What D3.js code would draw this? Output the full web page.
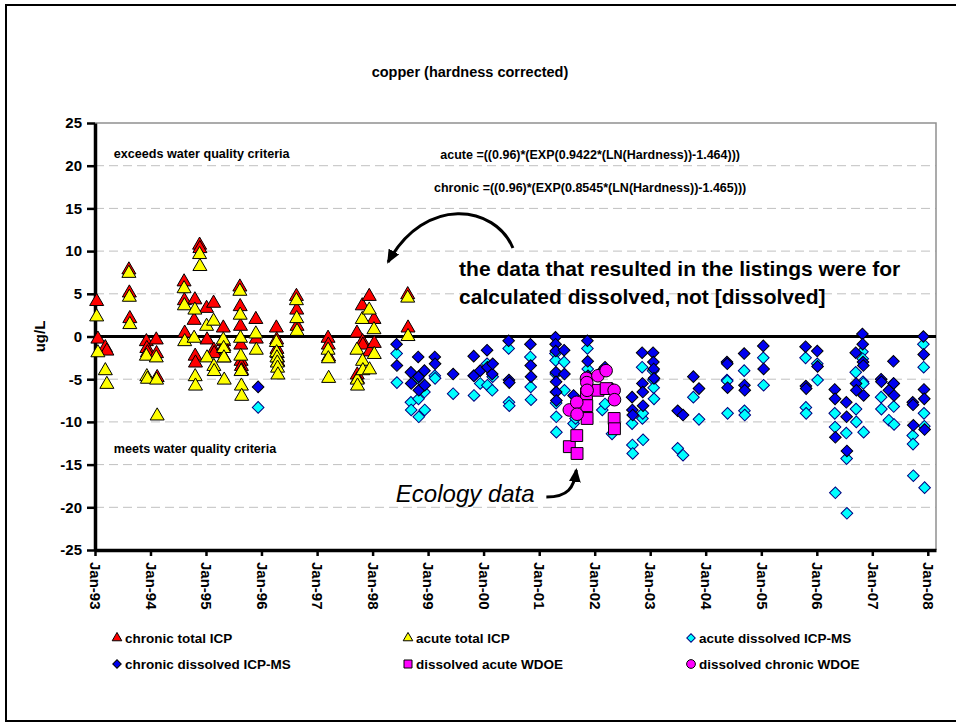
<!DOCTYPE html>
<html>
<head>
<meta charset="utf-8">
<script src="https://cdnjs.cloudflare.com/ajax/libs/d3/7.8.5/d3.min.js"></script>
<style>
  body { margin: 0; background: #fff; }
  svg { display: block; font-family: Arial, "Liberation Sans", sans-serif; }
  .grid line { stroke: #c0c0c0; stroke-dasharray: 9,5; }
</style>
</head>
<body>
<svg id="chart" width="956" height="723"></svg>
<script>
// ---------------- data ----------------
// total ICP : one date per sample, chronic + acute exceedance (ug/L)
const icpDates = [
  "1993-01-12","1993-01-20","1993-03-10","1993-03-20",
  "1993-08-12","1993-08-15","1993-08-18",
  "1993-12-05","1993-12-08","1993-12-12",
  "1994-02-08","1994-02-10","1994-02-14",
  "1994-08-10","1994-08-12","1994-08-14",
  "1994-10-20","1994-10-22","1994-10-24","1994-10-15",
  "1994-11-20","1994-11-22",
  "1995-01-05","1995-01-08","1995-02-20","1995-02-22","1995-02-24",
  "1995-04-25","1995-04-27","1995-04-29","1995-05-01",
  "1995-08-12","1995-08-14","1995-08-16","1995-08-18","1995-08-20","1995-08-22","1995-08-24",
  "1995-11-25","1995-11-28",
  "1996-04-08","1996-04-10","1996-04-12","1996-04-14","1996-04-16","1996-04-18",
  "1996-08-18","1996-08-20","1996-08-22",
  "1997-03-14","1997-03-16","1997-03-18",
  "1997-09-20","1997-09-22","1997-09-24",
  "1997-10-25","1997-10-27","1997-10-29",
  "1997-12-10","1997-12-12",
  "1998-01-10","1998-01-12",
  "1998-08-20","1998-08-22"
];
const chronicTotal = [
  4.1,-0.3,-1.3,-1.7,
  7.8,5.1,2.1,
  -0.6,-1.4,-1.9,
  -0.4,-2.0,-4.8,
  6.4,4.2,0.4,
  4.3,-2.3,-3.1,1.9,
  10.7,10.3,
  3.3,-0.4,3.9,-1.6,-2.0,
  1.0,-0.6,-1.2,-2.5,
  5.8,3.5,1.2,-1.0,-2.9,-3.5,-4.0,
  2.0,-0.3,
  1.0,-0.4,-1.5,-2.0,-2.5,-3.0,
  4.7,3.1,1.2,
  -0.2,-1.0,-2.4,
  0.4,-4.5,-5.0,
  3.6,-0.6,-1.0,
  4.7,-1.8,
  2.0,-0.8,
  4.9,1.0
];
const acuteTotal = [
  2.3,-1.9,-4.0,-5.6,
  7.4,4.6,1.4,
  -2.3,-4.7,-5.0,
  -2.5,-5.1,-9.3,
  5.6,3.6,-0.6,
  3.1,-4.7,-5.8,-0.2,
  9.6,8.2,
  1.2,-2.5,1.8,-3.5,-4.1,
  -0.4,-1.4,-2.5,-5.1,
  5.3,2.5,-0.2,-2.3,-4.1,-5.8,-7.0,
  0.3,-1.6,
  -0.7,-1.9,-2.5,-3.1,-3.7,-4.5,
  4.2,2.1,0.6,
  -1.6,-2.6,-4.9,
  -1.6,-5.1,-5.8,
  2.0,-2.9,-4.0,
  3.1,-3.9,
  0.8,-2.1,
  4.5,0.0
];

// dissolved ICP-MS
const msDates = [
  "1995-12-10",
  "1998-06-08","1998-06-10",
  "1998-09-10","1998-09-12",
  "1998-10-28","1998-10-30","1998-11-01",
  "1998-12-08","1998-12-10",
  "1999-02-14","1999-02-16",
  "1999-06-15",
  "1999-10-28","1999-10-30",
  "1999-12-10",
  "2000-01-24","2000-01-26",
  "2000-02-27","2000-03-01",
  "2000-06-14","2000-06-16","2000-06-18",
  "2000-11-04","2000-11-06","2000-11-08",
  "2001-04-18","2001-04-19","2001-04-20","2001-04-21","2001-04-22","2001-04-23","2001-04-24",
  "2001-06-14","2001-06-16",
  "2001-08-15","2001-08-28",
  "2001-11-14","2001-11-16","2001-11-18",
  "2002-02-20","2002-03-10","2002-04-25",
  "2002-09-04","2002-09-06","2002-09-08",
  "2002-11-09","2002-11-11","2002-11-13","2002-11-15",
  "2003-01-20","2003-01-22","2003-01-24","2003-01-26",
  "2003-07-01","2003-08-05",
  "2003-10-12","2003-11-18",
  "2004-05-20","2004-05-22","2004-05-24",
  "2004-09-10","2004-09-12","2004-09-14",
  "2005-01-14","2005-01-16",
  "2005-10-19","2005-10-21","2005-10-23",
  "2006-01-04","2006-01-06",
  "2006-04-29","2006-05-01","2006-05-03",
  "2006-07-14","2006-07-16","2006-07-18",
  "2006-09-14","2006-09-16","2006-09-18",
  "2006-10-28","2006-10-30","2006-11-01","2006-11-03","2006-11-05",
  "2007-02-28","2007-03-02",
  "2007-04-20",
  "2007-05-20","2007-05-22","2007-05-24",
  "2007-09-24","2007-09-26","2007-09-28",
  "2007-12-03","2007-12-05","2007-12-07","2007-12-09","2007-12-11"
];
const chronicDiss = [
  -5.9,
  -0.9,-3.4,
  -4.2,-5.5,
  -2.4,-4.7,-6.3,
  -4.0,-5.7,
  -2.4,-3.2,
  -4.4,
  -2.3,-4.6,
  -4.0,
  -1.6,-3.6,
  -4.4,-3.2,
  -0.5,-5.1,-5.4,
  -0.9,-3.4,-4.7,
  -0.1,-0.9,-1.7,-4.2,-5.3,-6.5,-7.5,
  -1.6,-4.4,
  -6.9,-8.0,
  -0.5,-2.9,-4.6,
  -4.0,-3.6,-6.1,
  -7.1,-8.6,-9.2,
  -1.9,-5.5,-6.5,-8.1,
  -1.9,-3.0,-3.8,-4.9,
  -8.7,-9.2,
  -4.7,-6.1,
  -3.0,-3.2,-6.0,
  -2.0,-5.7,-6.3,
  -1.1,-3.8,
  -1.2,-5.8,-6.1,
  -1.7,-3.5,
  -6.2,-7.3,-11.8,
  -7.7,-9.4,-13.4,
  -1.9,-5.5,-6.3,
  0.3,-0.9,-3.0,-3.4,-6.9,
  -5.0,-5.3,
  -6.3,
  -2.9,-5.5,-6.9,
  -7.7,-8.0,-10.4,
  0.0,-2.1,-6.2,-7.3,-10.9
];
const acuteDiss = [
  -8.3,
  -2.0,-5.4,
  -7.7,-8.6,
  -4.9,-7.3,-9.4,
  -6.5,-8.6,
  -4.6,-4.9,
  -6.7,
  -4.6,-6.9,
  -5.5,
  -3.2,-5.7,
  -6.3,-4.7,
  -1.4,-7.7,-8.1,
  -2.4,-5.9,-7.4,
  -2.0,-2.8,-4.4,-6.5,-7.8,-9.4,-11.2,
  -3.0,-6.3,
  -10.2,-9.6,
  -1.4,-3.8,-6.3,
  -8.6,-7.9,-11.4,
  -10.2,-12.7,-13.7,
  -3.6,-9.6,-9.0,-12.1,
  -4.0,-5.1,-6.0,-7.3,
  -13.1,-13.9,
  -7.1,-9.7,
  -5.1,-5.2,-9.0,
  -4.0,-8.7,-9.2,
  -2.5,-5.7,
  -2.5,-8.3,-9.0,
  -3.2,-5.1,
  -9.0,-10.6,-18.3,
  -11.3,-14.3,-20.7,
  -4.2,-8.5,-10.0,
  -1.8,-2.6,-5.3,-5.5,-11.2,
  -7.1,-8.5,
  -9.8,
  -5.5,-8.2,-10.3,
  -11.6,-12.6,-16.3,
  -0.9,-3.6,-9.0,-10.5,-17.7
];

// Ecology (WDOE) dissolved samples
const wdoeDates = ["2001-07-18","2001-09-05","2001-09-07","2001-11-08","2001-11-10",
                   "2001-11-12","2002-01-22","2002-03-17","2002-05-09","2002-05-11"];
const acuteWdoe   = [-12.9,-11.6,-13.7,-6.7,-8.1,-9.6,-6.3,-6.1,-9.6,-10.8];
const chronicWdoe = [-8.6,-7.7,-9.1,-4.9,-5.4,-6.3,-4.6,-4.0,-6.3,-7.4];

const yTicks = [25,20,15,10,5,0,-5,-10,-15,-20,-25];
const xTickYears = d3.range(1993, 2009);
const legendLabels = ["chronic total ICP","acute total ICP","acute dissolved ICP-MS",
                      "chronic dissolved ICP-MS","dissolved acute WDOE","dissolved chronic WDOE"];

// ---------------- chart ----------------
const svg = d3.select("#chart");
const parse = d3.timeParse("%Y-%m-%d");
// decimal year -> Date, used only to pin the annotations
const at = yr => new Date(Math.floor(yr), 0, 1 + (yr - Math.floor(yr)) * 365);

const plot = {left: 95, right: 936, top: 123, bottom: 550};

const x = d3.scaleTime()
  .domain([new Date(1993, 0, 1), new Date(2008, 1, 24)])
  .range([plot.left, plot.right]);
const y = d3.scaleLinear()
  .domain([-25, 25])
  .range([plot.bottom, plot.top]);

svg.append("rect").attr("width", 956).attr("height", 723).attr("fill", "#fff");
// outer frame
svg.append("rect")
  .attr("x", 6).attr("y", 5).attr("width", 960).attr("height", 716)
  .attr("fill", "none").attr("stroke", "#000").attr("stroke-width", 2);

// gridlines
svg.append("g").attr("class", "grid")
  .selectAll("line")
  .data(yTicks.filter(d => d !== 0 && d !== 25 && d !== -25))
  .enter().append("line")
  .attr("x1", plot.left).attr("x2", plot.right)
  .attr("y1", d => y(d)).attr("y2", d => y(d));

// plot frame top/right
svg.append("path")
  .attr("d", `M${plot.left},${y(25)}H${plot.right}V${y(-25)}`)
  .attr("fill", "none").attr("stroke", "#909090").attr("stroke-width", 1.5);

// zero line
svg.append("line")
  .attr("x1", plot.left).attr("x2", plot.right)
  .attr("y1", y(0)).attr("y2", y(0))
  .attr("stroke", "#000").attr("stroke-width", 3);

// axes
const yAxis = svg.append("g")
  .attr("transform", `translate(${plot.left},0)`)
  .call(d3.axisLeft(y).tickValues(yTicks).tickSize(8).tickSizeOuter(0).tickPadding(5)
        .tickFormat(d => String(d)));
const xAxis = svg.append("g")
  .attr("transform", `translate(0,${plot.bottom})`)
  .call(d3.axisBottom(x).tickValues(xTickYears.map(yr => new Date(yr, 0, 1)))
        .tickSize(6).tickSizeOuter(0).tickFormat(d3.timeFormat("%b-%y")));

[yAxis, xAxis].forEach(g => {
  g.select(".domain").attr("stroke", "#000").attr("stroke-width", 3.5);
  g.selectAll(".tick line").attr("stroke", "#000").attr("stroke-width", 2.5);
  g.selectAll("text").attr("fill", "#000")
    .style("font-size", "15px").style("font-weight", "bold");
});
xAxis.selectAll(".tick text")
  .attr("transform", "rotate(90)")
  .attr("x", 12).attr("y", 0).attr("dy", "0.35em")
  .style("text-anchor", "start");

svg.append("text")
  .attr("transform", `translate(40,${(plot.top + plot.bottom) / 2}) rotate(-90)`)
  .attr("dy", "0.35em").attr("text-anchor", "middle")
  .style("font-size", "15px").style("font-weight", "bold")
  .text("ug/L");

svg.append("text")
  .attr("x", 470).attr("y", 77).attr("text-anchor", "middle")
  .style("font-size", "14.5px").style("font-weight", "bold")
  .text("copper (hardness corrected)");

// ---------------- markers ----------------
const tri = d3.symbol(d3.symbolTriangle, 85)();
const dia = d3.symbol(d3.symbolSquare, 68)();
const sq = d3.symbol(d3.symbolSquare, 140)();
const circ = d3.symbol(d3.symbolCircle, 125)();

const series = [
  {dates: icpDates,  values: chronicTotal, path: tri,  rot: 0,  fill: "#ff0000", stroke: "#000"},
  {dates: icpDates,  values: acuteTotal,   path: tri,  rot: 0,  fill: "#ffff00", stroke: "#000"},
  {dates: msDates,   values: acuteDiss,    path: dia,  rot: 45, fill: "#00ffff", stroke: "#000080"},
  {dates: msDates,   values: chronicDiss,  path: dia,  rot: 45, fill: "#0000f0", stroke: "#000"},
  {dates: wdoeDates, values: acuteWdoe,    path: sq,   rot: 0,  fill: "#ff00ff", stroke: "#000"},
  {dates: wdoeDates, values: chronicWdoe,  path: circ, rot: 0,  fill: "#ff00ff", stroke: "#000"}
];

series.forEach(s => {
  svg.append("g")
    .selectAll("path")
    .data(s.values.map((v, i) => ({date: parse(s.dates[i]), value: v})))
    .enter().append("path")
    .attr("d", s.path)
    .attr("transform", d => `translate(${x(d.date)},${y(d.value)}) rotate(${s.rot})`)
    .attr("fill", s.fill)
    .attr("stroke", s.stroke)
    .attr("stroke-width", 1);
});

// ---------------- annotations ----------------
const note = (yr, v, txt, size, opts = {}) => svg.append("text")
  .attr("x", x(at(yr))).attr("y", y(v))
  .attr("text-anchor", opts.anchor || "start")
  .style("font-size", size + "px")
  .style("font-weight", opts.italic ? "normal" : "bold")
  .style("font-style", opts.italic ? "italic" : "normal")
  .text(txt);

note(1993.34, 20.9, "exceeds water quality criteria", 12.6);
note(1993.34, -13.6, "meets water quality criteria", 12.6);
note(2001.92, 20.8, "acute =((0.96)*(EXP(0.9422*(LN(Hardness))-1.464)))", 12.5, {anchor: "middle"});
note(2001.92, 16.9, "chronic =((0.96)*(EXP(0.8545*(LN(Hardness))-1.465)))", 12.5, {anchor: "middle"});
note(1999.56, 7.1, "the data that resulted in the listings were for", 21);
note(1999.56, 3.8, "calculated dissolved, not [dissolved]", 21);
note(1998.42, -19.4, "Ecology data", 24, {italic: true});

svg.append("defs").append("marker")
  .attr("id", "head")
  .attr("markerUnits", "userSpaceOnUse")
  .attr("markerWidth", 14).attr("markerHeight", 12)
  .attr("refX", 12).attr("refY", 6)
  .attr("orient", "auto")
  .append("path").attr("d", "M0,0L14,6L0,12Z").attr("fill", "#000");

const arrowLine = (pts) => {
  const p = pts.map(([yr, v]) => [x(at(yr)), y(v)]);
  const path = d3.path();
  path.moveTo(p[0][0], p[0][1]);
  path.bezierCurveTo(p[1][0], p[1][1], p[2][0], p[2][1], p[3][0], p[3][1]);
  svg.append("path")
    .attr("d", path.toString())
    .attr("fill", "none").attr("stroke", "#000").attr("stroke-width", 3)
    .attr("marker-end", "url(#head)");
};
arrowLine([[2000.53, 10.36], [2000.21, 15.4], [1998.95, 16.57], [1998.28, 8.72]]);
arrowLine([[2001.13, -18.8], [2001.52, -18.8], [2001.63, -17.74], [2001.67, -15.63]]);

// ---------------- legend ----------------
const legendShapes = [
  {path: d3.symbol(d3.symbolTriangle, 40)(), rot: 0},
  {path: d3.symbol(d3.symbolTriangle, 40)(), rot: 0},
  {path: d3.symbol(d3.symbolSquare, 36)(), rot: 45},
  {path: d3.symbol(d3.symbolSquare, 36)(), rot: 45},
  {path: d3.symbol(d3.symbolSquare, 64)(), rot: 0},
  {path: d3.symbol(d3.symbolCircle, 60)(), rot: 0}
];
const legendCol = [117, 408, 691];
const legendRow = [638, 664];
const legend = svg.append("g")
  .selectAll("g")
  .data(legendLabels)
  .enter().append("g")
  .attr("transform", (d, i) => `translate(${legendCol[i % 3]},${legendRow[Math.floor(i / 3)]})`);
legend.append("path")
  .attr("d", (d, i) => legendShapes[i].path)
  .attr("transform", (d, i) => `rotate(${legendShapes[i].rot})`)
  .attr("fill", (d, i) => series[i].fill)
  .attr("stroke", (d, i) => series[i].stroke);
legend.append("text")
  .attr("x", 8).attr("dy", "0.35em")
  .style("font-size", "13.5px").style("font-weight", "bold")
  .text(d => d);
</script>
</body>
</html>
